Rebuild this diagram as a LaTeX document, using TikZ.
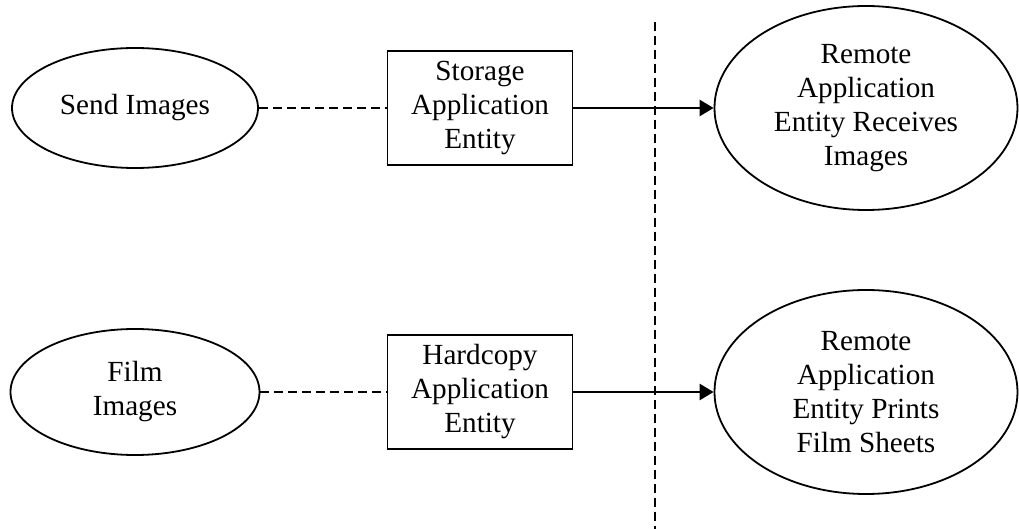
\documentclass[tikz,border=0pt]{standalone}
\usepackage{fontspec}
\setmainfont{Liberation Serif}
\usetikzlibrary{shapes.geometric,positioning,arrows.meta}

\begin{document}
\begin{tikzpicture}[node distance=172.5pt, on grid, font=\fontsize{14.6}{17}\selectfont,
		task/.style={draw, ellipse, line width=0.9pt, inner sep=0pt, align=center},
		entity/.style={draw, rectangle, line width=0.9pt, minimum width=92.5pt, minimum height=57pt, inner sep=0pt, align=center},
		link/.style={dash pattern=on 4.5pt off 2.5pt, line width=0.9pt},
		send/.style={-{Triangle[length=7pt,width=8pt]}, line width=1.3pt}]
	\useasboundingbox (0,0) rectangle (509.5pt,-264.5pt);
	\node[task, minimum width=123pt, minimum height=60pt]      (sendimg)     at (67.5pt,-54pt)              {Send Images};
	\node[entity]                                              (storage)     [right =of sendimg]            {Storage\\Application\\Entity};
	\node[task, minimum width=151.5pt, minimum height=102pt]   (remoterecv)  [right =193pt of storage]      {Remote\\Application\\Entity Receives\\Images};
	\node[task, minimum width=124.5pt, minimum height=63pt]    (filmimg)     [below =142pt of sendimg]      {Film\\Images};
	\node[entity]                                              (hardcopy)    [below =142pt of storage]      {Hardcopy\\Application\\Entity};
	\node[task, minimum width=151.5pt, minimum height=102pt]   (remoteprint) [below =142pt of remoterecv]   {Remote\\Application\\Entity Prints\\Film Sheets};
	% network boundary
	\coordinate (divtop) at (327.5pt,-11pt);
	\coordinate (divbot) at (327.5pt,-264.5pt);
	\draw[link] (divtop) -- (divbot);
		\path
		(sendimg)  edge [link] (storage)
		(storage)  edge [send] (remoterecv)
		(filmimg)  edge [link] (hardcopy)
		(hardcopy) edge [send] (remoteprint);
\end{tikzpicture}
\end{document}
